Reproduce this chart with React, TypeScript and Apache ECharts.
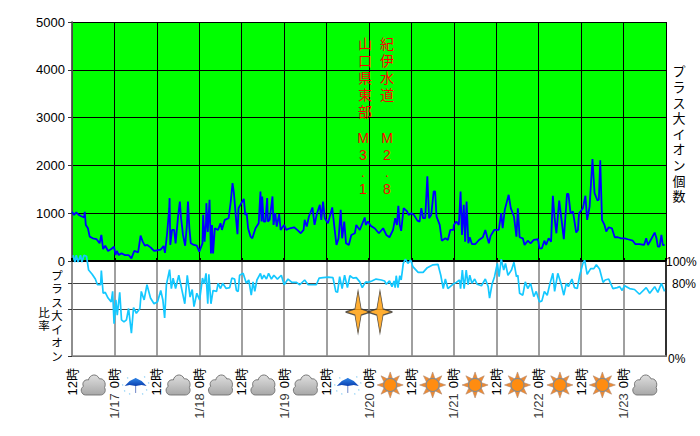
import React, { useEffect, useRef } from "react";
import * as echarts from "echarts";

// hours since 1/16 12:00, ion count
const plusIons: number[][] = [
  [0,1030],[0.6,965],[1.2,1020],[1.9,965],[2.8,930],[3.4,910],[3.6,1030],[3.9,755],[4.5,685],[5,510],[5.9,475],[6.9,460],[7.8,370],[8.3,545],[8.8,250],[9.4,320],[10.2,210],[11.1,250],[11.9,300],
  [12.3,125],[12.7,210],[13.2,125],[14,160],[14.9,125],[16,125],[16.8,55],[17.6,210],[18.7,180],[19.4,530],[20,405],[20.6,320],[21.3,335],[22.3,280],[23.2,210],[24.2,225],[25.1,240],[25.9,315],[26.3,170],[26.9,580],[27.5,1105],[27.6,1315],[27.8,335],[28.3,650],[28.9,650],[29.3,370],[30,930],[30.5,1245],[30.8,930],[31.4,545],[32,320],[32.5,755],[32.8,1245],[33.2,685],[33.6,370],[34.5,335],[35.3,320],[36,195],[36.9,370],[37.1,965],[37.5,405],[37.9,800],[38,1210],[38.4,610],[38.9,1280],[39.3,160],[39.6,755],[39.9,160],[40.4,685],
  [41.3,650],[42,790],[42.4,650],[43.2,860],[44.3,895],[44.9,1245],[45.4,1630],[45.8,1420],[46.3,965],[46.8,560],[47.1,1105],[47.9,1210],[48.6,1300],[49,965],[49.4,1000],[49.8,685],[50.5,510],[51,475],[51.9,685],[52.8,790],[53.3,1455],[53.6,825],[53.8,1350],[54.2,825],[54.7,825],[55.2,1315],[55.4,825],[55.9,860],[56.7,1350],[57,755],[57.5,1000],[57.9,720],[58.6,980],[59,650],[60,755],[60.6,650],[61.6,685],[62.8,705],[63.7,650],[64.7,580],[65.5,650],[65.8,860],[66.4,720],[67,930],[68,1120],[68.6,755],[69.3,1000],[70.1,1175],[70.5,860],[71,1245],[71.5,895],[72.4,790],[73.6,1120],[74.3,650],[74.8,335],[75.4,475],[76,1070],[76.4,475],[77,825],[77.5,370],[78.3,335],[79,545],[80,580],[80.4,755],[81.4,650],[82.8,910],[83.1,755],
  [83.7,825],[84.5,735],[85.6,685],[86.8,580],[88,685],[88.9,545],[89.8,497],[90.8,650],[91.4,895],[91.9,755],[92.3,1155],[92.7,755],[93.1,630],[93.8,1105],[94.8,1035],[95.2,965],[96,1000],[96.7,965],[97.7,845],[98.3,825],[98.8,1105],[99.3,895],[99.9,895],[100.5,1770],[101,895],[101.6,965],[102.3,1455],[102.7,1455],[103.1,930],[104,755],[104.6,425],[105.6,475],[106.3,440],[107,650],[107.9,650],[108,755],[108.7,825],[109.4,755],[109.9,1455],[110.3,545],[110.8,1175],[111.2,405],[111.6,1245],[112.1,370],[112.5,497],[113.1,355],[114.1,355],[115.1,440],[116.2,497],[116.9,650],[117.9,370],[118.4,525],[119.4,650],[120.7,650],[121.4,1000],[121.8,685],[122.4,1070],[123.5,1385],[124.1,1105],[125,930],[125.7,510],
  [126.1,1105],[126.6,497],[127.5,475],[128,335],[128.9,425],[129.7,370],[130.6,440],[131.8,455],[132.2,265],[132.9,265],[133.6,425],[134.1,335],[134.8,475],[135.5,405],[136,1365],[136.5,895],[137,580],[137.8,1265],[138.4,895],[139.1,455],[140,1405],[140.4,1405],[141,1000],[141.7,1035],[142.6,595],[143.1,650],[143.4,1000],[144.5,1105],[145.2,1365],[145.7,860],[146.4,1140],[147.2,2135],[147.8,1420],[148.6,1265],[149,1280],[149.4,2105],[149.9,860],[150.6,755],[151.1,615],[151.8,705],[152.7,685],[153.5,497],[154.4,497],[155.3,475],[156.3,475],[157.2,455],[158.6,425],[159.3,355],[160.5,355],[161.8,335],[162.4,475],[162.9,335],[163.8,455],[164.8,595],[165.3,475],[165.7,300],[166.2,300],[166.7,545],[167.1,335],[167.6,335],
];

// hours since 1/16 12:00, ratio scale position
const plusRatio: number[][] = [
  [0.3,106],[0.8,99],[1.2,106],[1.7,99],[2.4,106],[2.8,99],[3.4,106],[4.1,105],[4.7,90.5],[5.7,86],[6.6,81],[7.2,75],[8.1,75],[8.3,90],[8.8,66],[9.4,67],[10.2,61],[11.1,57],[11.5,68],[11.9,34],[12.4,59],[12.8,43],[13.5,67],[14,38],[14.7,36],[15.4,38],[16,50],[16.8,24],[17.4,51],[18.2,45],[19.2,50],[19.6,68],[20.4,59],[21.2,75],[22.2,61],[23.2,55],[24.2,57],[25.1,69],[25.7,59],[26.2,40],[26.7,75],[27.6,91],[28.1,71],[28.6,82],[29.3,71],[30.2,85],[31,71],[31.9,55],[32.6,85],[33.4,62],[34,70],[34.5,52],[35.3,66],[36.1,59],[36.9,82],[37.4,76],[37.9,87],[38.4,55],[38.7,86],[39.3,55],[39.9,69],[40.9,68],
  [41.3,76.5],[42,71],[42.6,76.5],[43.6,71],[44.6,72],[45.2,82],[46,81],[46.5,69],[47,68],[47.4,85],[48.4,87],[49.3,76.5],[50,80],[50.7,64],[51.2,78],[51.7,68],[52.3,80],[53.3,87],[53.7,81],[54.3,85],[55,81],[55.6,87],[56.4,81],[57.1,85],[58.1,81],[59.2,85],[60,75],[61.1,81],[62.2,77.5],[63.5,77.5],[64.4,75],[65.8,80],[66.8,75],[68.2,75],[69.1,75],[69.9,82],[71,82.5],[72.4,83],[73.8,82.5],[74.6,68],[75.1,67],[75.7,83.5],[76.4,71],[77.1,85],[77.9,72],[78.6,84.5],[79.5,82],[80.4,82.5],[81.4,78],[82.1,72],[82.8,76.5],[83.1,78],
  [83.7,77.5],[84.8,79],[86,81],[87.5,80],[88.4,79],[88.9,75.5],[89.8,79],[90.5,73],[91.1,79],[91.4,72],[91.7,84.5],[92.2,72],[92.7,84.5],[93.1,80],[93.7,97.5],[94.3,102],[95,97.5],[95.8,101],[96.4,94],[97.9,88],[99.3,88],[100.5,93],[102.1,96],[103.5,96.5],[104.3,85],[105,71],[105.6,81],[106.3,71],[107.7,75.5],[108.7,77.5],[109.6,80],[109.9,71],[110.4,90.5],[110.9,71],[111.5,90.5],[112,75],[112.5,85],[113.1,76.5],[113.9,81],[114.6,75.5],[115.8,74],[116.9,81],[117.7,73],[118.1,61],[118.8,75.5],[119.5,83.5],[120.3,97.5],[120.8,83.5],[121.4,102],[122.1,90.5],[122.6,97.5],[123.3,85],[124.3,90.5],[125,98.6],[125.7,83.5],
  [126.1,85],[126.6,66],[127.5,64],[128.2,78],[128.9,71],[129.7,76.5],[130.6,62.5],[131.3,68],[132.2,57],[132.9,58],[133.6,68],[134.4,64],[135.1,75],[136,87],[136.5,68],[137.4,87],[138.4,75],[139.1,64],[139.8,76.5],[140.4,73],[141.4,81],[142.1,72],[142.9,71],[143.6,85],[144.5,97.5],[145,101],[145.7,86],[146.7,92],[147.6,92],[148.3,96],[149.2,91.5],[150.2,77.5],[150.8,80],[151.8,81],[153,71],[154.2,72],[154.9,73],[155.6,69],[156.3,74],[157.7,71],[159.1,70],[160.5,65],[162.4,72],[163.4,66],[164.8,73],[165.7,67],[166.7,76.5],[167.6,68],
];

const hourLabels = ["12時","0時","12時","0時","12時","0時","12時","0時","12時","0時","12時","0時","12時","0時",""];
const dateLabels = ["1/17","1/18","1/19","1/20","1/21","1/22","1/23"];
const dateHours = [12,36,60,84,108,132,156];
const ratioTicks = [0, 49, 77, 100];
const ratioLabels: Record<number, string> = { 0: "{z|0%}", 77: "{e|80%}", 100: "{h|100%}" };
const weather = ["cloud","rain","cloud","cloud","cloud","cloud","rain","sun","sun","sun","sun","sun","sun","cloud"];
const weatherHours = [6,18,30,42,54,66,78,90,102,114,126,138,150,162];
const quakes = [[80.9,46.3],[87.1,46.3]];
const quakeNames = ["山\n口\n県\n東\n部","紀\n伊\n水\n道"];
const quakeMags = ["M\n3\n.\n1","M\n2\n.\n8"];
const rightTitle = "プ\nラ\nス\n大\nイ\nオ\nン\n個\n数";
const leftTitle = "プ\nラ\nス\n大\nイ\nオ\nン";
const leftTitle2 = "比\n率";

const SANS = '"Liberation Sans","Noto Sans CJK JP",sans-serif';
const CLOUD = "M5,20 C1,20 -1,14 3,12 C1,8 5,5 8,6 C9,1 16,-1 19,5 C23,4 26,9 24,13 C26,17 23,20 20,20 Z";

function weatherIcon(kind: string, x: number, y: number) {
  const G = echarts.graphic as any;
  if (kind === "cloud") {
    return {
      type: "group", x, y,
      children: [{
        type: "path",
        shape: { pathData: CLOUD, x: -12, y: -10, width: 24, height: 20, layout: "cover" },
        style: { fill: new G.LinearGradient(0, 0, 0, 1, [{ offset: 0, color: "#dedede" }, { offset: 1, color: "#a8a8a8" }]), stroke: "#777", lineWidth: 1 },
      }],
    };
  }
  if (kind === "rain") {
    const dots = [[-11,6],[-8,-7],[9,-8],[11,5],[7,9],[-6,9],[-13,0],[13,-2]];
    return {
      type: "group", x, y,
      children: [
        { type: "line", shape: { x1: 0, y1: -7, x2: 0, y2: 8 }, style: { stroke: "#6f86c8", lineWidth: 1 } },
        { type: "polygon", shape: { points: [[-11,1],[-6,-4],[0,-7],[6,-4],[11,1],[6,0],[0,1],[-6,0]] },
          style: { fill: new G.LinearGradient(0, 0, 0, 1, [{ offset: 0, color: "#2f86e8" }, { offset: 1, color: "#0a3fb0" }]) } },
        ...dots.map((d) => ({ type: "circle", shape: { cx: d[0], cy: d[1], r: 0.7 }, style: { fill: "#8fd0f5" } })),
      ],
    };
  }
  const rays: any[] = [];
  for (let i = 0; i < 8; i++) {
    const a = (i * Math.PI) / 4 - Math.PI / 2;
    const pt = (r: number, t: number) => [r * Math.cos(a + t), r * Math.sin(a + t)];
    rays.push({ type: "polygon", shape: { points: [pt(13, 0), pt(6.5, 0.38), pt(6.5, -0.38)] }, style: { fill: "#f08a30", stroke: "#b08a70", lineWidth: 0.6 } });
  }
  return {
    type: "group", x, y,
    children: [...rays, { type: "circle", shape: { cx: 0, cy: 0, r: 6.5 }, style: { fill: "#ff8c10", stroke: "#8a8a8a", lineWidth: 1.2 } }],
  };
}

function vtext(text: string, x: number, y: number, lineHeight: number, fill: string, size = 13) {
  return {
    type: "text", z: 20,
    style: { text, x, y, fill, font: `${size}px ${SANS}`, lineHeight, textAlign: "center", textVerticalAlign: "top" },
  };
}

export default function App() {
  const ref = useRef<HTMLDivElement>(null);
  useEffect(() => {
    document.body.style.margin = "0";
    const chart = echarts.init(ref.current!, undefined, { renderer: "svg" });
    const hourAxisBase = { type: "value", min: 0, max: 168, interval: 12 };
    chart.setOption({
      animation: false,
      backgroundColor: "#fff",
      grid: [
        { left: 72, right: 34, top: 22, height: 239, show: true, backgroundColor: "#00ff00", borderWidth: 0 },
        { left: 72, right: 34, top: 261, height: 95, show: false },
      ],
      xAxis: [
        { ...hourAxisBase, gridIndex: 0, position: "top",
          axisLine: { show: true, lineStyle: { color: "#b8b8b8", width: 2 } }, axisTick: { show: false }, axisLabel: { show: false },
          splitLine: { show: true, lineStyle: { color: "#000", width: 1 } } },
        { ...hourAxisBase, gridIndex: 1, position: "bottom",
          axisLine: { show: true, lineStyle: { color: "#888", width: 1.5 } }, axisTick: { show: false },
          axisLabel: { rotate: 90, margin: 12, fontSize: 13, color: "#000", fontFamily: SANS, showMaxLabel: true, showMinLabel: true, hideOverlap: false, formatter: (v: number) => hourLabels[Math.round(v / 12)] },
          splitLine: { show: true, lineStyle: { color: "#808080", width: 1.5 } } },
        { ...hourAxisBase, gridIndex: 0, position: "bottom",
          axisLine: { show: true, onZero: false, lineStyle: { color: "#000", width: 2 } },
          axisTick: { show: true, inside: true, length: 3, lineStyle: { color: "#000", width: 2 } },
          axisLabel: { show: false }, splitLine: { show: false } },
      ],
      yAxis: [
        { type: "value", gridIndex: 0, min: 0, max: 5000, interval: 1000, position: "left",
          axisLine: { show: true, lineStyle: { color: "#999" } }, axisTick: { show: true, length: 4, lineStyle: { color: "#333" } },
          axisLabel: { margin: 7, fontSize: 13, color: "#000", fontFamily: SANS, formatter: (v: number) => String(v) },
          splitLine: { show: true, lineStyle: { color: "#000", width: 1 } } },
        { type: "value", gridIndex: 0, min: 0, max: 5000, interval: 1000, position: "right",
          axisLine: { show: true, lineStyle: { color: "#303030", width: 1.5 } }, axisTick: { show: false }, axisLabel: { show: false }, splitLine: { show: false } },
        { type: "value", gridIndex: 1, min: 0, max: 100, position: "left",
          axisLine: { show: true, lineStyle: { color: "#888", width: 1.5 } },
          axisTick: { show: true, length: 4, customValues: ratioTicks, lineStyle: { color: "#333" } },
          axisLabel: { show: false, customValues: ratioTicks },
          splitLine: { show: true, lineStyle: { color: "#444", width: 1 } } },
        { type: "value", gridIndex: 1, min: 0, max: 100, position: "right",
          axisLine: { show: true, lineStyle: { color: "#303030", width: 2 } }, axisTick: { show: false, customValues: ratioTicks }, splitLine: { show: false },
          axisLabel: { customValues: [0, 77, 100], margin: 0, fontSize: 12, color: "#000", fontFamily: SANS, showMinLabel: true, showMaxLabel: true, hideOverlap: false,
            rich: {
              z: { fontSize: 12, fontFamily: SANS, color: "#000", padding: [6, 0, 0, 2] },
              e: { fontSize: 12, fontFamily: SANS, color: "#000", padding: [2, 0, 0, 6] },
              h: { fontSize: 12, fontFamily: SANS, color: "#000", padding: [2, 0, 0, 0] },
            },
            formatter: (v: number) => ratioLabels[v] ?? "" } },
      ],
      series: [
        { name: "プラス大イオン個数", type: "line", xAxisIndex: 0, yAxisIndex: 0, data: plusIons, showSymbol: false, symbol: "none", z: 5,
          lineStyle: { color: "#0000ff", width: 1.8 } },
        { name: "プラス大イオン比率", type: "line", xAxisIndex: 1, yAxisIndex: 2, data: plusRatio, showSymbol: false, symbol: "none", clip: false, z: 6,
          lineStyle: { color: "#14c8ff", width: 1.7 } },
        { name: "地震", type: "scatter", xAxisIndex: 1, yAxisIndex: 2, data: quakes, clip: false, z: 7,
          symbol: "path://M0,-21 L3,-3 L12,0 L3,3 L0,21 L-3,3 L-12,0 L-3,-3 Z", symbolSize: [25, 43],
          itemStyle: { color: "#ff9a00", borderColor: "#333", borderWidth: 1 } },
        { name: "日付", type: "scatter", xAxisIndex: 1, yAxisIndex: 2, clip: false, z: 7, silent: true,
          data: dateHours.map((h) => [h, -52.6]), symbolSize: 1, itemStyle: { color: "transparent" },
          label: { show: true, position: "inside", rotate: 90, fontSize: 13, color: "#000", fontFamily: SANS,
            formatter: (p: any) => dateLabels[p.dataIndex] } },
        { name: "天気", type: "custom", xAxisIndex: 1, yAxisIndex: 2, clip: false, z: 7,
          data: weatherHours.map((h) => [h, -30.5]),
          encode: { x: 0, y: 1 },
          renderItem: (params: any, api: any) => {
            const p = api.coord([api.value(0), api.value(1)]);
            return weatherIcon(weather[params.dataIndex], p[0], p[1]);
          } },
      ],
      graphic: [
        vtext(rightTitle, 679, 64, 15.6, "#000", 13),
        vtext(leftTitle, 57, 269, 13.5, "#000", 11.5),
        vtext(leftTitle2, 44, 306, 13.5, "#000", 11.5),
        vtext(quakeNames[0], 365, 36, 16.8, "#ff0000", 14),
        vtext(quakeNames[1], 387, 36, 16.8, "#ff0000", 14),
        vtext(quakeMags[0], 363, 129, 17, "#ff0000", 14),
        vtext(quakeMags[1], 387, 129, 17, "#ff0000", 14),
      ],
    });
    return () => chart.dispose();
  }, []);
  return <div ref={ref} style={{ width: 700, height: 436 }} />;
}
